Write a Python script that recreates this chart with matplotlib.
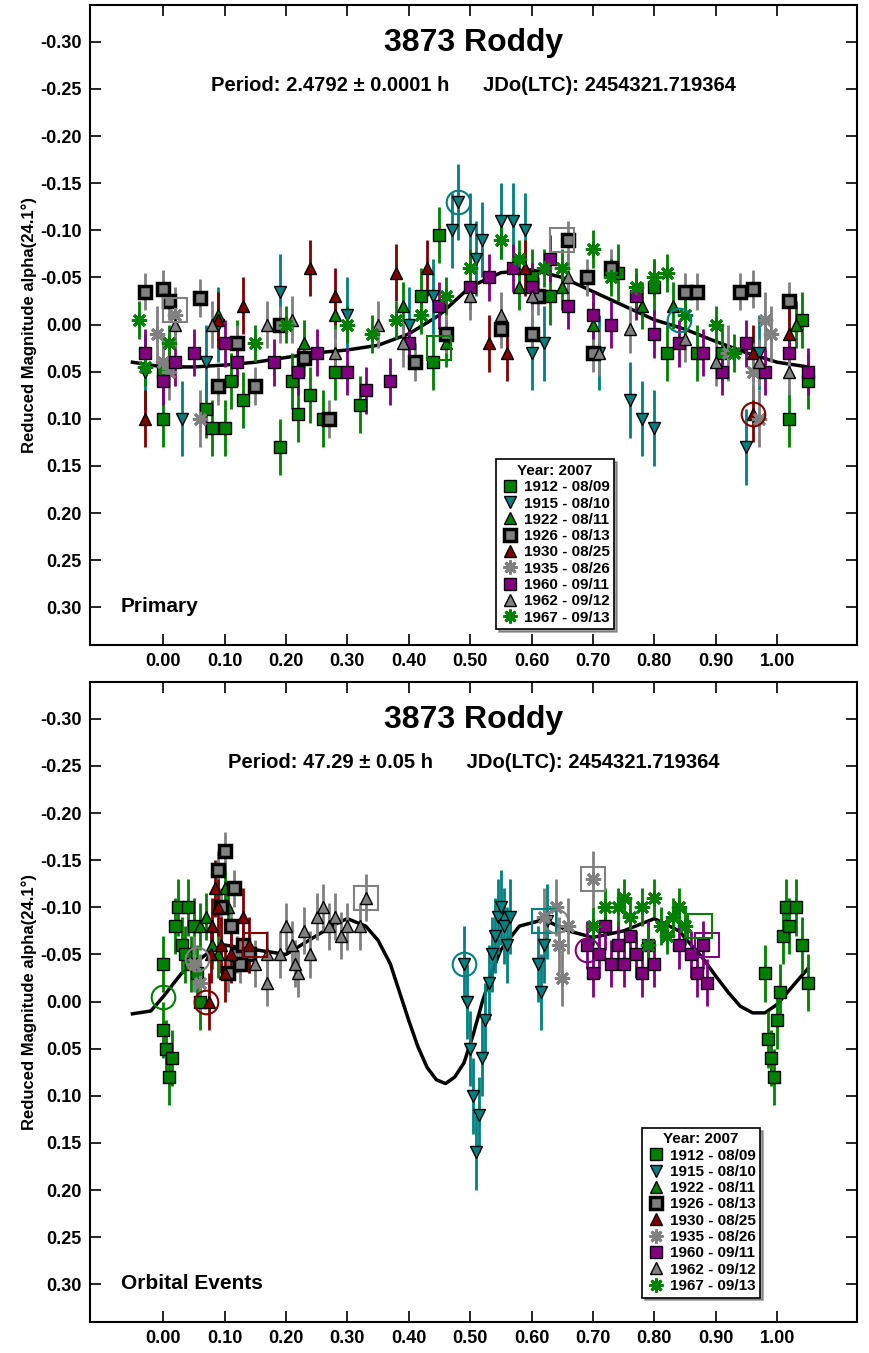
import numpy as np
import matplotlib
matplotlib.use("Agg")
import matplotlib.pyplot as plt

plt.rcParams["font.family"] = "Liberation Sans"
plt.rcParams["font.weight"] = "bold"

# ---- series definitions (name, colour, marker, edge colour) ----
names = ["1912 - 08/09", "1915 - 08/10", "1922 - 08/11", "1926 - 08/13", "1930 - 08/25",
         "1935 - 08/26", "1960 - 09/11", "1962 - 09/12", "1967 - 09/13"]
colors = ["#008000", "#008080", "#008000", "#808080", "#800000",
          "#808080", "#800080", "#808080", "#008000"]
markers = ["s", "v", "^", "s", "^", "*", "s", "^", "*"]
edges = ["black", "black", "black", "black", "black", None, "black", "black", None]
errs = [0.03, 0.04, 0.025, 0.02, 0.03, 0.03, 0.025, 0.025, 0.02]
ASTER = (8, 2, 0)

# ---- top panel (Primary) data: phase / reduced magnitude ----
p1_x = {
    0: [0.00, 0.07, 0.08, 0.10, 0.11, 0.13, 0.19, 0.21, 0.22, 0.24, 0.26, 0.28, 0.32, 0.45, 0.42, 0.44, 0.60, 0.63, 0.74, 0.80, 0.82, 0.87, 0.91, 1.02, 1.05, 1.04, 0.00],
    1: [0.48, 0.47, 0.50, 0.52, 0.55, 0.57, 0.59, 0.19, 0.30, 0.44, 0.51, 0.62, 0.60, 0.71, 0.76, 0.78, 0.80, 0.95, 0.97, 0.03, 0.09, 0.40, 0.07, -0.03],
    2: [0.09, 0.12, 0.28, 0.23, 0.46, 0.39, 0.70, 0.78, 0.83, 0.65, 0.58, 1.03],
    3: [-0.03, 0.00, 0.01, 0.06, 0.12, 0.19, 0.27, 0.23, 0.15, 0.09, 0.41, 0.46, 0.61, 0.66, 0.69, 0.85, 0.87, 0.94, 0.96, 1.02, 0.73, 0.55, 0.60, 0.70],
    4: [-0.03, 0.24, 0.28, 0.38, 0.43, 0.09, 0.13, 0.53, 0.56, 0.96, 0.96, 1.02, 0.59],
    5: [-0.01, 0.00, 0.02, 0.06, 0.01, 0.97, 0.98, 0.92, 0.99, 0.96],
    6: [-0.03, 0.00, 0.02, 0.05, 0.10, 0.12, 0.18, 0.22, 0.25, 0.30, 0.33, 0.37, 0.40, 0.45, 0.50, 0.53, 0.57, 0.60, 0.63, 0.66, 0.70, 0.73, 0.77, 0.80, 0.84, 0.88, 0.91, 0.95, 0.98, 1.02, 1.05],
    7: [0.02, 0.08, 0.17, 0.21, 0.35, 0.39, 0.50, 0.55, 0.60, 0.66, 0.71, 0.76, 0.85, 0.90, 0.97, 1.02, 0.28],
    8: [-0.04, -0.03, 0.01, 0.15, 0.20, 0.30, 0.34, 0.38, 0.42, 0.46, 0.50, 0.55, 0.58, 0.62, 0.65, 0.70, 0.73, 0.77, 0.80, 0.82, 0.85, 0.90, 0.93],
}
p1_y = {
    0: [0.10, 0.09, 0.11, 0.11, 0.06, 0.08, 0.13, 0.06, 0.095, 0.075, 0.10, 0.05, 0.085, -0.095, -0.03, 0.04, -0.05, -0.03, -0.055, -0.04, 0.03, 0.03, 0.03, 0.10, 0.06, -0.005, 0.05],
    1: [-0.13, -0.10, -0.10, -0.09, -0.11, -0.11, -0.10, -0.035, -0.01, -0.03, -0.07, 0.02, 0.03, 0.03, 0.08, 0.10, 0.11, 0.13, 0.03, 0.10, 0.00, 0.00, 0.04, 0.05],
    2: [-0.01, 0.02, -0.01, 0.02, 0.02, -0.02, 0.00, -0.02, -0.02, -0.04, -0.04, 0.00],
    3: [-0.035, -0.038, -0.025, -0.028, 0.02, 0.00, 0.10, 0.035, 0.065, 0.065, 0.04, 0.01, -0.03, -0.09, -0.05, -0.035, -0.035, -0.035, -0.038, -0.025, -0.06, 0.005, 0.01, 0.03],
    4: [0.10, -0.06, -0.03, -0.055, -0.06, -0.005, -0.02, 0.02, 0.03, 0.095, 0.03, 0.01, -0.06],
    5: [0.01, 0.04, -0.01, 0.10, 0.05, 0.10, -0.005, 0.03, 0.01, 0.05],
    6: [0.03, 0.06, 0.04, 0.03, 0.02, 0.04, 0.04, 0.05, 0.03, 0.05, 0.07, 0.06, 0.02, -0.02, -0.04, -0.05, -0.06, -0.04, -0.07, -0.02, -0.01, 0.00, -0.03, 0.01, 0.02, 0.03, 0.05, 0.02, 0.05, 0.03, 0.05],
    7: [0.00, 0.00, 0.00, -0.005, 0.00, 0.02, -0.03, -0.01, -0.03, -0.05, 0.03, 0.005, 0.015, 0.04, 0.04, 0.05, 0.03],
    8: [-0.005, 0.045, 0.02, 0.02, 0.00, 0.00, 0.01, -0.005, -0.01, -0.03, -0.06, -0.09, -0.07, -0.06, -0.06, -0.08, -0.05, -0.04, -0.05, -0.055, -0.01, 0.00, 0.03],
}
fit1_x = [-0.05, 0.00, 0.05, 0.10, 0.15, 0.20, 0.25, 0.30, 0.35, 0.40, 0.45, 0.50,
          0.55, 0.60, 0.65, 0.70, 0.75, 0.80, 0.85, 0.90, 0.95, 1.00, 1.05]
fit1_y = [0.040, 0.045, 0.045, 0.043, 0.040, 0.035, 0.030, 0.027, 0.022, 0.010, -0.010, -0.040,
          -0.055, -0.058, -0.050, -0.035, -0.020, -0.005, 0.005, 0.018, 0.030, 0.040, 0.045]
rings1 = [(0.48, -0.13, 1, "o"), (0.96, 0.095, 4, "o"), (0.45, 0.025, 0, "s"),
          (0.02, -0.015, 5, "s"), (0.65, -0.09, 5, "s"), (0.84, -0.005, 1, "o")]

# ---- bottom panel (Orbital Events) data ----
p2_x = {
    0: [0.00, 0.00, 0.005, 0.01, 0.015, 0.02, 0.025, 0.03, 0.04, 0.05, 0.055, 0.06, 0.035, 0.045,
        0.98, 0.985, 0.99, 0.995, 1.00, 1.01, 1.015, 1.02, 1.03, 1.04, 1.05, 1.005],
    1: [0.49, 0.495, 0.50, 0.505, 0.51, 0.515, 0.52, 0.525, 0.53, 0.535, 0.54, 0.545, 0.55, 0.555, 0.56, 0.565,
        0.61, 0.615, 0.62, 0.625],
    2: [0.06, 0.07, 0.09, 0.10, 0.105, 0.08],
    3: [0.09, 0.10, 0.095, 0.11, 0.12, 0.13, 0.14, 0.105, 0.115, 0.125],
    4: [0.075, 0.08, 0.085, 0.09, 0.095, 0.10, 0.11, 0.13, 0.14, 0.078],
    5: [0.05, 0.06, 0.62, 0.64, 0.645, 0.65, 0.66, 0.70],
    6: [0.69, 0.70, 0.71, 0.72, 0.73, 0.74, 0.75, 0.76, 0.77, 0.78, 0.79, 0.80, 0.84, 0.86, 0.87, 0.88, 0.885],
    7: [0.15, 0.17, 0.19, 0.20, 0.21, 0.22, 0.23, 0.24, 0.25, 0.26, 0.27, 0.28, 0.29, 0.30, 0.32, 0.33, 0.17, 0.215],
    8: [0.70, 0.72, 0.74, 0.76, 0.78, 0.80, 0.81, 0.82, 0.83, 0.84, 0.85, 0.79, 0.75],
}
p2_y = {
    0: [-0.04, 0.03, 0.05, 0.08, 0.06, -0.08, -0.10, -0.06, -0.10, -0.08, -0.03, 0.00, -0.05, -0.04,
        -0.03, 0.04, 0.06, 0.08, 0.02, -0.07, -0.10, -0.08, -0.10, -0.06, -0.02, -0.01],
    1: [-0.04, 0.00, 0.05, 0.10, 0.16, 0.12, 0.06, 0.02, -0.02, -0.05, -0.07, -0.09, -0.10, -0.08, -0.06, -0.09,
        -0.04, -0.01, -0.06, -0.085],
    2: [-0.08, -0.09, -0.05, -0.12, -0.10, -0.06],
    3: [-0.14, -0.16, -0.10, -0.08, -0.05, -0.06, -0.05, -0.03, -0.12, -0.04],
    4: [0.00, -0.08, -0.12, -0.10, -0.06, -0.03, -0.05, -0.09, -0.06, -0.05],
    5: [-0.04, -0.02, -0.09, -0.10, -0.06, -0.025, -0.08, -0.13],
    6: [-0.06, -0.03, -0.05, -0.08, -0.04, -0.06, -0.04, -0.07, -0.05, -0.03, -0.06, -0.04, -0.06, -0.05, -0.03, -0.06, -0.02],
    7: [-0.04, -0.05, -0.05, -0.08, -0.06, -0.03, -0.075, -0.05, -0.09, -0.10, -0.08, -0.09, -0.07, -0.08, -0.08, -0.11, -0.02, -0.04],
    8: [-0.08, -0.10, -0.10, -0.09, -0.10, -0.11, -0.08, -0.07, -0.09, -0.10, -0.08, -0.06, -0.11],
}
fit2_x = [-0.05, -0.02, 0.00, 0.03, 0.05, 0.08, 0.10, 0.15, 0.20, 0.25, 0.28, 0.30, 0.33, 0.35, 0.37, 0.40, 0.415,
          0.43, 0.445, 0.46, 0.475, 0.49, 0.505, 0.52, 0.535, 0.55, 0.58, 0.62, 0.66, 0.70, 0.75, 0.80,
          0.84, 0.88, 0.90, 0.92, 0.94, 0.96, 0.98, 1.00, 1.03, 1.05]
fit2_y = [0.013, 0.010, -0.005, -0.030, -0.040, -0.055, -0.060, -0.055, -0.050, -0.070, -0.082, -0.088, -0.080,
          -0.065, -0.040, 0.020, 0.048, 0.070, 0.083, 0.087, 0.080, 0.065, 0.035, 0.000, -0.030, -0.055, -0.080,
          -0.087, -0.075, -0.068, -0.075, -0.088, -0.075, -0.045, -0.027, -0.010, 0.005, 0.012, 0.012, 0.003,
          -0.020, -0.035]
rings2 = [(0.00, -0.005, 0, "o"), (0.07, 0.00, 4, "o"), (0.49, -0.04, 1, "o"), (0.33, -0.11, 5, "s"),
          (0.70, -0.13, 5, "s"), (0.055, -0.045, 5, "o"), (0.15, -0.06, 4, "s"), (0.62, -0.085, 1, "s"),
          (0.69, -0.055, 6, "o"), (0.885, -0.06, 6, "s"), (0.875, -0.08, 0, "s"), (0.64, -0.085, 5, "o")]

fig = plt.figure(figsize=(8.69, 13.53), dpi=100)


def mstyle(i, big=9):
    if markers[i] == "*":
        return dict(marker=ASTER, ms=big + 2, color=colors[i], mec=colors[i], mew=2)
    return dict(marker=markers[i], ms=big, color=colors[i], mec=edges[i],
                mew=2.5 if i == 3 else 1)


def draw_panel(rect, px, py, fx, fy, rings, period, label, leg_pos):
    ax = fig.add_axes(rect)
    ax.plot(fx, fy, color="black", lw=2.5, zorder=1)
    for i in range(len(names)):
        ax.errorbar(px[i], py[i], yerr=errs[i], fmt="none", ecolor=colors[i], elinewidth=2, zorder=2)
        ax.plot(px[i], py[i], ls="none", zorder=3, **mstyle(i))
    for x, y, k, m in rings:
        ax.plot(x, y, marker=m, ms=17, mfc="none", mec=colors[k], mew=1.5, zorder=4)
    ax.set_xlim(-0.119, 1.130)
    ax.set_ylim(0.340, -0.339)
    ax.set_xticks(np.arange(0, 1.01, 0.1))
    ax.set_xticklabels(["%.2f" % v for v in np.arange(0, 1.01, 0.1)])
    ax.set_yticks(np.arange(-0.30, 0.301, 0.05))
    ax.set_yticklabels(["%.2f" % v if abs(v) > 1e-9 else "0.00" for v in np.arange(-0.30, 0.301, 0.05)])
    ax.tick_params(direction="in", top=True, right=True, length=8, width=1.2, labelsize=13, pad=6)
    for s in ax.spines.values():
        s.set_linewidth(1.5)
    ax.set_ylabel("Reduced Magnitude alpha(24.1\u00b0)", fontsize=12, fontweight="bold", labelpad=2)
    ax.text(0.5, 0.94, "3873 Roddy", transform=ax.transAxes, ha="center", va="center",
            fontsize=23, fontweight="bold")
    ax.text(0.5, 0.874, period + "      JDo(LTC): 2454321.719364", transform=ax.transAxes,
            ha="center", va="center", fontsize=14.5, fontweight="bold")
    ax.text(0.04, 0.06, label, transform=ax.transAxes, ha="left", va="center",
            fontsize=15, fontweight="bold")
    handles = []
    for i in range(len(names)):
        h, = ax.plot([], [], ls="none", **mstyle(i, 8))
        handles.append(h)
    leg = fig.legend(handles, names, title="Year: 2007", loc="lower left", bbox_to_anchor=leg_pos,
                     fancybox=False, shadow=True, edgecolor="black", framealpha=1,
                     prop={"weight": "bold", "size": 11}, title_fontproperties={"weight": "bold", "size": 11},
                     handletextpad=0.3, labelspacing=0.15, borderpad=0.3, handlelength=1.2,
                     borderaxespad=0)
    leg.get_frame().set_linewidth(1.2)
    return ax


draw_panel([0.1036, 0.5233, 0.8826, 0.473], p1_x, p1_y, fit1_x, fit1_y, rings1,
           "Period: 2.4792 \u00b1 0.0001 h", "Primary", (0.571, 0.535))
draw_panel([0.1036, 0.0229, 0.8826, 0.473], p2_x, p2_y, fit2_x, fit2_y, rings2,
           "Period: 47.29 \u00b1 0.05 h", "Orbital Events", (0.739, 0.041))

fig.savefig("out.png", dpi=100)
